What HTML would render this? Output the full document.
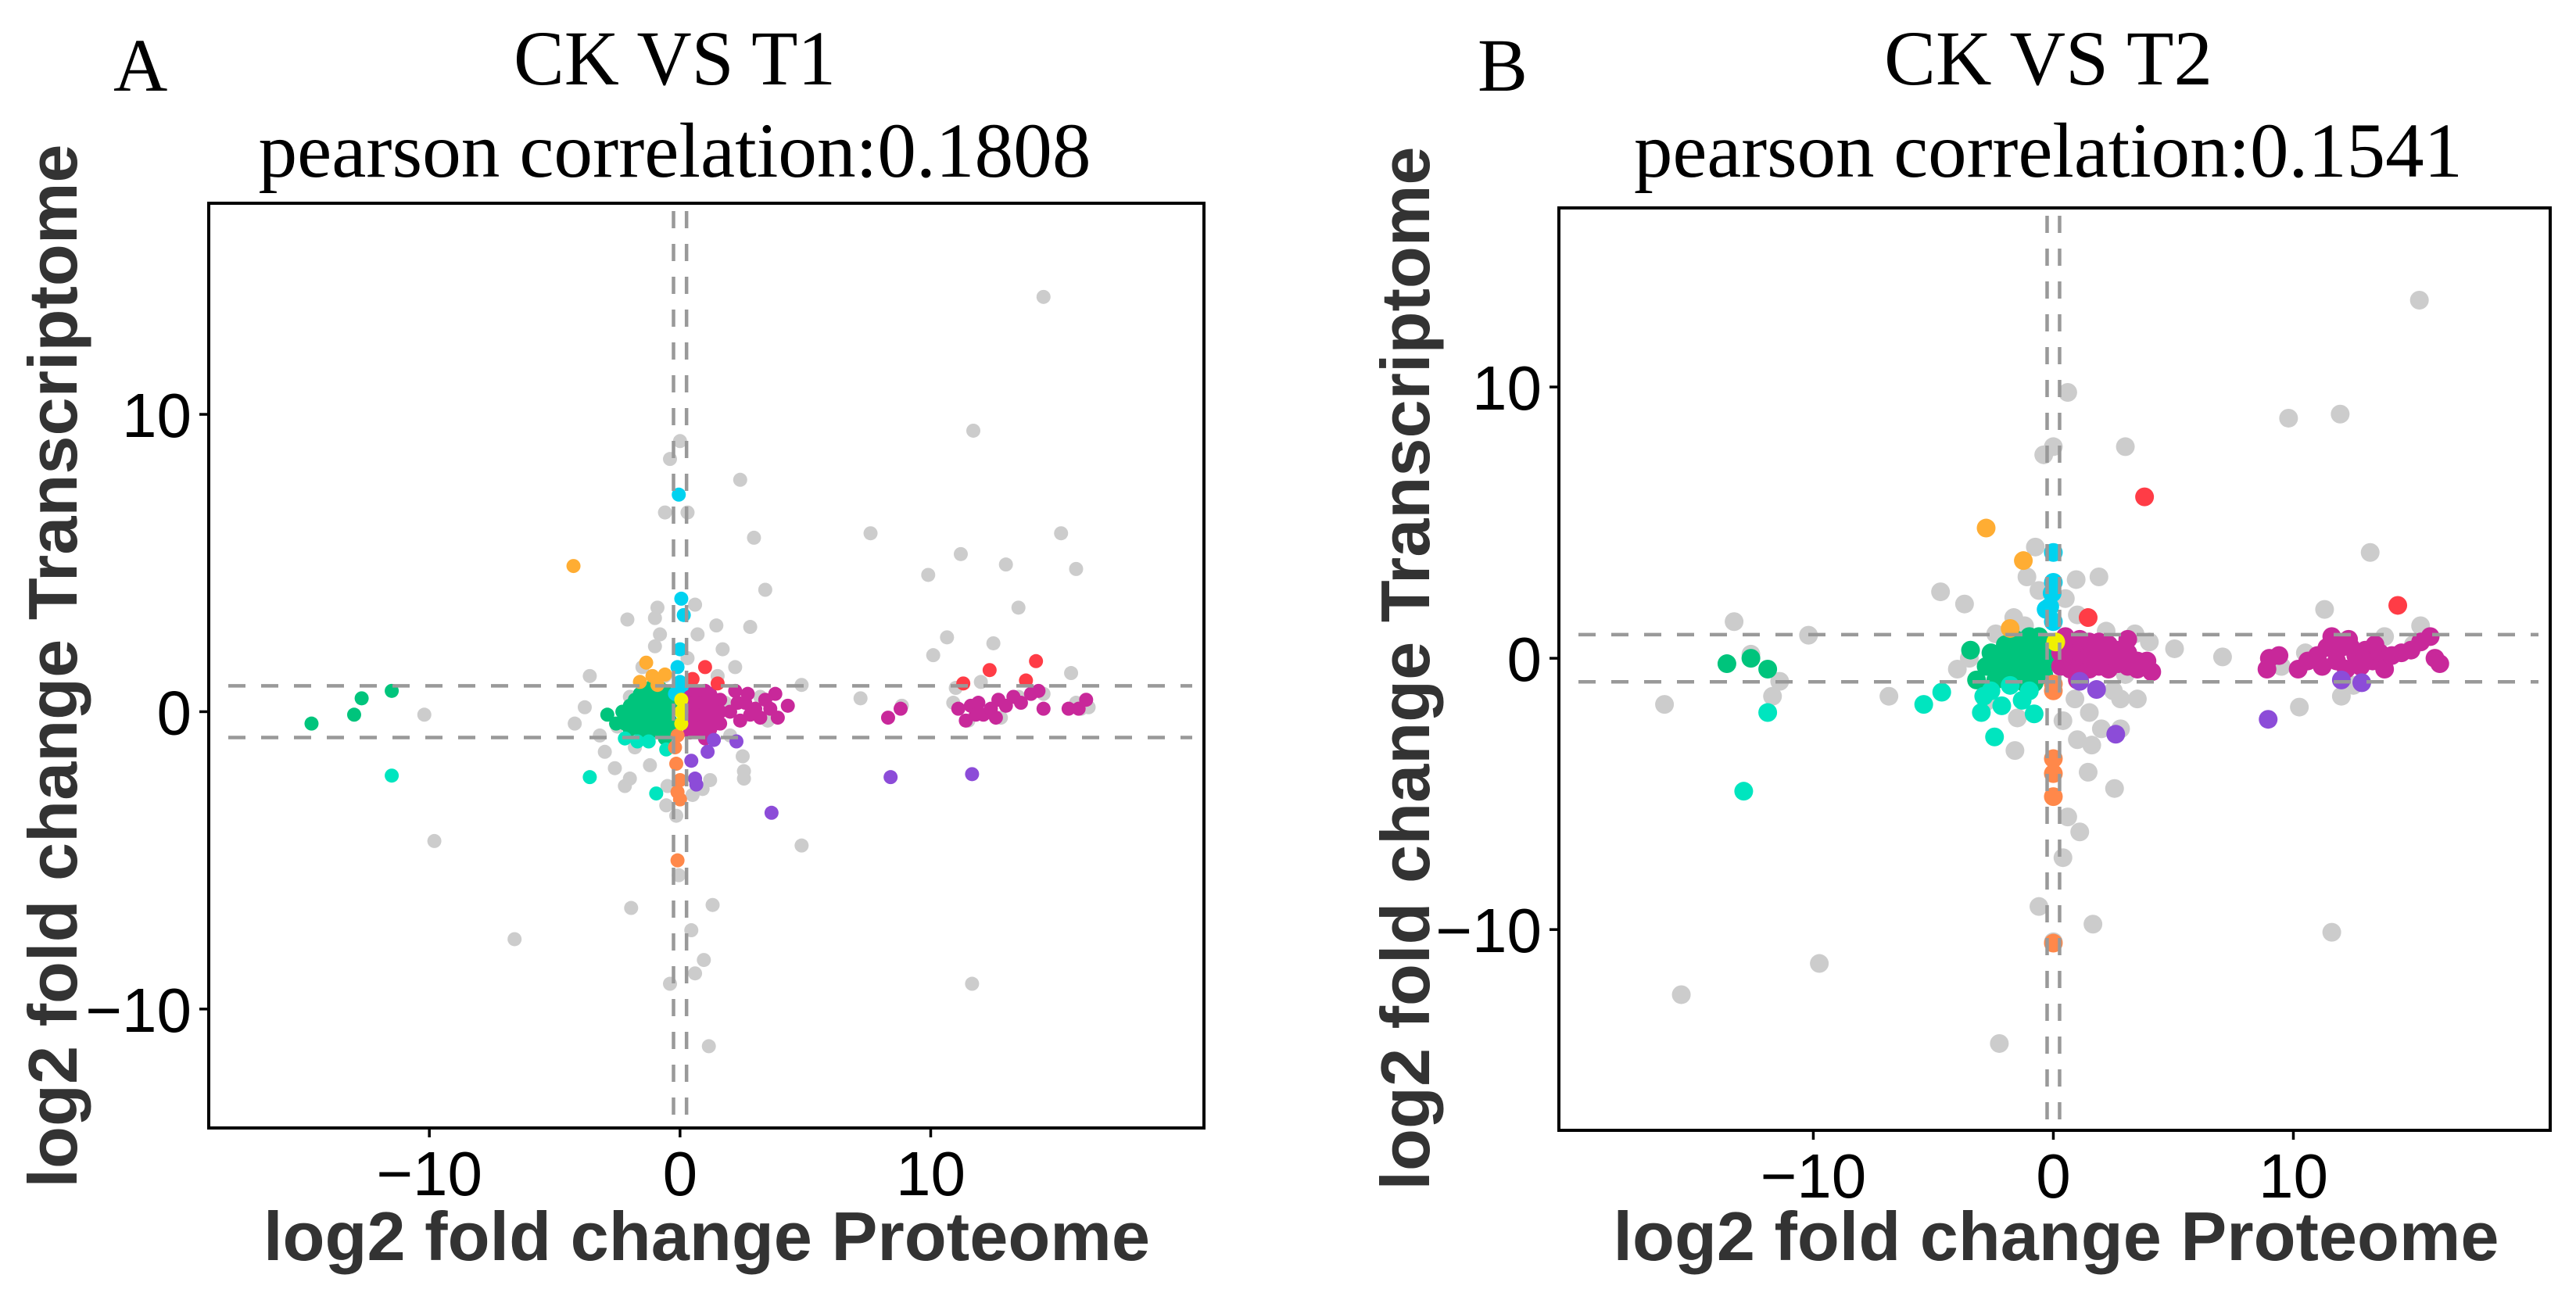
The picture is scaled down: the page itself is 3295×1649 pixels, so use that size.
<!DOCTYPE html>
<html><head><meta charset="utf-8"><style>
body{margin:0;background:#fff;}
svg{display:block;}
</style></head><body>
<svg id="fig" width="3295" height="1649" viewBox="0 0 3295 1649" xmlns="http://www.w3.org/2000/svg">
<rect width="3295" height="1649" fill="#fff"/>
<g id="pA"></g>
<g id="pB"></g>
</svg>
<script>
const ticks = [-10, 0, 10];
const tickLabels = ["\u221210", "0", "10"];
const threshX = 0.26;
const threshY = 0.87;

// Panel A data
const greyA = [[14.5,13.95],[11.7,9.45],[0,9.1],[-0.4,8.5],[2.4,7.8],[-0.6,6.7],[0.3,6.7],[2.95,5.85],[7.6,6.0],[15.2,6.0],[11.2,5.3],[13.0,4.95],[9.9,4.6],[15.8,4.8],[3.4,4.1],[13.5,3.5],[-2.1,3.1],[-0.9,3.5],[0.6,3.6],[-1.0,3.15],[0.7,2.6],[1.45,2.9],[2.8,2.85],[-0.8,2.6],[1.7,2.1],[10.65,2.5],[12.5,2.3],[10.1,1.9],[-3.6,1.2],[15.6,1.3],[4.85,0.9],[7.2,0.45],[8.85,0.2],[-10.2,-0.1],[-3.8,0.15],[-4.2,-0.4],[16.3,0.15],[2.55,-2.0],[2.55,-2.25],[-2.0,-2.25],[-2.6,-1.9],[-3.0,-1.35],[-9.8,-4.35],[4.85,-4.5],[-0.55,-3.15],[-0.15,-3.5],[-1.95,-6.6],[1.3,-6.5],[-0.05,-5.5],[-6.6,-7.65],[0.45,-7.35],[0.95,-8.35],[0.6,-8.8],[-0.4,-9.15],[11.65,-9.15],[1.15,-11.25],[-1.5,1.5],[-2,0.5],[-2.5,-0.5],[-1.8,-1.2],[-1.2,-1.8],[1.5,1.2],[2,-0.8],[2.5,-1.5],[1.2,-2.3],[-0.5,-2.5],[0.5,-2.8],[3.2,0.5],[3.5,-0.3],[-3.2,-0.8],[-2.2,-2.5],[1.8,0.3],[0.3,1.8],[-0.6,1.2],[0.9,-2.6],[2.2,1.5],[-1.0,2.2],[11,0.8],[12,1],[13.5,0.5],[14.5,0.6],[11.5,-0.3],[15.8,0.3],[16,0.1],[10.9,0.3],[12.8,-0.2]];
const greenA = [[-14.7,-0.4],[-12.7,0.45],[-11.5,0.7],[-13.0,-0.1],[-2.9,-0.1],[-2.55,-0.4],[-2,-0.6],[-2,-0.2],[-2,0.2],[-1.6,-0.6],[-1.6,-0.2],[-1.6,0.2],[-1.6,0.6],[-1.2,-0.7],[-1.2,-0.3],[-1.2,0.1],[-1.2,0.5],[-1.2,0.8],[-0.8,-0.7],[-0.8,-0.3],[-0.8,0.1],[-0.8,0.5],[-0.8,0.8],[-0.4,-0.7],[-0.4,-0.3],[-0.4,0.1],[-0.4,0.5],[-2.3,0.0],[-1.4,-0.8],[-0.6,-0.9],[-1.8,-0.4],[-1.8,0.0],[-1.8,0.4],[-1.4,-0.5],[-1.4,-0.1],[-1.4,0.3],[-1.4,0.7],[-1.0,-0.5],[-1.0,-0.1],[-1.0,0.3],[-1.0,0.7],[-0.6,-0.5],[-0.6,-0.1],[-0.6,0.3],[-0.6,0.7],[-0.3,-0.5],[-0.3,0.3],[-2.2,-0.4]];
const aquaA = [[-11.5,-2.15],[-3.6,-2.2],[-0.95,-2.75],[-1.7,-1.0],[-1.25,-1.0],[-0.55,-1.27],[-2.2,-0.9]];
const cyanA = [[-0.05,7.3],[0.05,3.8],[0.15,3.25],[0,2.1],[-0.1,1.5],[0,1.0],[-0.2,0.6],[0.1,0.7]];
const amberA = [[-4.25,4.9],[-1.35,1.65],[-1.6,1.0],[-1.1,1.2],[-0.6,1.25],[-0.9,0.9]];
const redA = [[1.0,1.5],[0.5,1.1],[1.5,0.95],[12.35,1.4],[14.2,1.7],[13.8,1.05],[11.3,0.95]];
const magentaA = [[0.4,-0.7],[0.4,-0.3],[0.4,0.1],[0.4,0.5],[0.8,-0.7],[0.8,-0.3],[0.8,0.1],[0.8,0.5],[1.2,-0.6],[1.2,-0.2],[1.2,0.2],[1.2,0.6],[1.6,-0.4],[1.6,0.0],[1.6,0.4],[0.6,0.7],[1.0,-0.9],[0.6,-0.5],[0.6,-0.1],[0.6,0.3],[1.0,-0.5],[1.0,-0.1],[1.0,0.3],[1.0,0.7],[1.4,-0.4],[1.4,0.0],[1.4,0.4],[2.2,0.7],[2.6,0.3],[3.0,0.1],[3.4,0.4],[3.8,0.6],[3.9,-0.2],[4.3,0.2],[2.4,-0.3],[2.8,-0.1],[3.6,0.1],[2.0,0.0],[2.3,0.3],[2.7,0.6],[3.2,-0.2],[8.3,-0.2],[8.8,0.1],[11.1,0.1],[11.4,-0.3],[11.6,0.2],[11.9,0.3],[12.1,-0.1],[12.4,0.1],[12.7,0.4],[13.0,0.2],[13.3,0.5],[13.6,0.3],[14.0,0.6],[14.3,0.7],[14.5,0.1],[15.5,0.1],[15.9,0.1],[16.2,0.4],[12.6,-0.2],[11.8,-0.1]];
const purpleA = [[1.35,-0.95],[1.1,-1.35],[0.45,-1.65],[0.6,-2.25],[0.65,-2.45],[2.25,-1.0],[3.65,-3.4],[8.4,-2.2],[11.65,-2.1]];
const orangeA = [[-0.1,-0.8],[-0.2,-1.2],[-0.15,-1.75],[0,-2.3],[-0.1,-2.7],[0,-2.95],[-0.1,-5.0]];
const yellowA = [[0.05,0],[0.05,-0.4],[0.05,0.4]];

// Panel B data
const greyB = [[15.25,13.2],[0.6,9.8],[9.8,8.85],[11.95,9.0],[-0.4,7.5],[0,7.8],[3.0,7.8],[-0.75,4.1],[13.2,3.9],[-1.1,3.0],[0.95,2.9],[1.9,3.0],[-4.7,2.45],[-3.7,2.0],[-1.65,1.5],[11.3,1.8],[15.3,1.2],[-13.3,1.35],[-10.2,0.85],[-12.6,0.15],[5.05,0.35],[7.05,0.05],[3.4,0.9],[-11.4,-0.85],[-11.7,-1.4],[-16.2,-1.7],[-6.85,-1.4],[-1.6,-3.4],[2.8,-1.5],[10.25,-1.8],[12.0,-1.4],[1.45,-4.2],[2.55,-4.8],[0.6,-5.85],[1.1,-6.4],[0.4,-7.35],[-0.6,-9.15],[1.65,-9.8],[0,-10.45],[11.6,-10.1],[-9.75,-11.25],[-15.5,-12.4],[-2.25,-14.2],[-1.2,1.2],[0.5,2.2],[1.0,1.6],[-0.6,2.5],[2.2,1.0],[0.9,-1.5],[1.5,-2.0],[2.0,-2.6],[1.0,-3.0],[0.4,-2.3],[1.6,-3.2],[2.5,-1.2],[3.5,-1.5],[-1.5,-2.2],[-2.8,-1.6],[-3.5,0.0],[-4.0,-0.4],[-2.4,0.9],[4.0,0.6],[3.0,-0.6],[2.8,-2.6],[12.5,-1.0],[13.8,0.8],[15.0,0.5],[10.5,0.2],[9.5,-0.3]];
const greenB = [[-13.6,-0.2],[-12.6,0],[-11.9,-0.4],[-3.45,0.3],[-3.2,-0.8],[-2.8,-0.3],[-2.6,0.2],[-2.2,-0.5],[-2.2,0.1],[-2.0,0.5],[-1.8,-0.4],[-1.8,0.2],[-1.6,0.7],[-1.4,-0.5],[-1.4,0.0],[-1.4,0.5],[-1.0,-0.6],[-1.0,-0.1],[-1.0,0.4],[-1.0,0.8],[-0.6,-0.5],[-0.6,0.0],[-0.6,0.5],[-0.6,0.8],[-0.3,-0.2],[-0.3,0.3],[-1.2,-0.9],[-2.4,-0.8],[-2.4,-0.2],[-2.0,-0.1],[-1.6,-0.2],[-1.2,0.2],[-0.8,0.2],[-0.4,-0.6],[-1.8,-0.8],[-0.8,-0.9]];
const aquaB = [[-12.9,-4.9],[-11.9,-2.0],[-5.4,-1.7],[-4.65,-1.25],[-3.0,-2.0],[-2.45,-2.9],[-2.15,-1.75],[-1.3,-1.55],[-0.8,-2.05],[-2.6,-1.2],[-1.8,-1.0],[-1.0,-1.2],[-2.9,-1.4]];
const cyanB = [[0,3.9],[0,2.8],[-0.05,2.4],[-0.3,1.8],[0,1.35],[-0.15,1.9]];
const amberB = [[-2.8,4.8],[-1.25,3.6],[-1.8,1.1]];
const redB = [[3.8,5.95],[1.45,1.5],[14.35,1.95]];
const magentaB = [[0.3,-0.3],[0.3,0.2],[0.3,0.6],[0.7,-0.4],[0.7,0.1],[0.7,0.6],[1.1,-0.3],[1.1,0.2],[1.1,0.7],[1.5,-0.4],[1.5,0.1],[1.5,0.6],[1.9,-0.3],[1.9,0.2],[1.9,0.6],[2.3,-0.4],[2.3,0.1],[2.3,0.5],[2.7,-0.2],[2.7,0.3],[3.1,-0.3],[3.1,0.2],[3.1,0.7],[3.5,-0.1],[3.5,-0.4],[3.9,-0.1],[4.1,-0.5],[1.0,-0.8],[0.5,0.8],[8.9,-0.4],[9.0,0.0],[9.4,0.1],[10.2,-0.4],[10.6,-0.1],[11.0,0.1],[11.4,0.4],[11.6,0.8],[11.8,-0.1],[12.0,0.4],[12.2,-0.4],[12.3,0.7],[12.6,0.1],[12.8,-0.3],[13.0,0.3],[13.3,-0.1],[13.6,0.2],[13.8,-0.4],[14.1,0.1],[14.5,0.2],[14.9,0.3],[15.3,0.6],[15.7,0.8],[15.9,0.0],[16.1,-0.2],[12.4,0.4],[13.4,0.5],[11.2,-0.3]];
const purpleB = [[1.1,-0.85],[1.8,-1.15],[2.6,-2.8],[8.95,-2.25],[12.0,-0.8],[12.85,-0.9]];
const orangeB = [[0,-1.2],[0,-0.95],[0,-3.7],[0,-4.25],[0,-5.1],[0,-10.5]];
const yellowB = [[0.1,0.6]];

const NS = "http://www.w3.org/2000/svg";
function mk(tag, attrs, parent){const e=document.createElementNS(NS,tag);for(const k in attrs)e.setAttribute(k,attrs[k]);parent.appendChild(e);return e;}

function panel(g, cfg, series){
  const sx = v => cfg.x0 + (v - cfg.xmin)/(cfg.xmax - cfg.xmin)*(cfg.x1 - cfg.x0);
  const sy = v => cfg.y1 - (v - cfg.ymin)/(cfg.ymax - cfg.ymin)*(cfg.y1 - cfg.y0);
  const pg = mk('g',{},g);
  
  
  series.forEach(s=>{
    s.pts.forEach(p=>{
      const c = mk('circle',{cx:sx(p[0]),cy:sy(p[1]),r:cfg.r,fill:s.color},pg);
      
      
    });
  });
  const dash = {stroke:'#999',"stroke-width":4.5,"stroke-dasharray":"22 20",fill:'none'};
  [threshY,-threshY].forEach(t=>{
    const l = mk('line',Object.assign({x1:cfg.x0+25,x2:cfg.x1-15,y1:sy(t),y2:sy(t)},dash),g);
    
    
  });
  [threshX,-threshX].forEach(t=>{
    const l = mk('line',Object.assign({y1:cfg.y0+10,y2:cfg.y1-5,x1:sx(t),x2:sx(t)},dash),g);
    
    
  });
  const b = mk('rect',{x:cfg.x0,y:cfg.y0,width:cfg.x1-cfg.x0,height:cfg.y1-cfg.y0,fill:'none',stroke:'#000',"stroke-width":4},g);
  
  
  ticks.forEach((t,i)=>{
    const tx = mk('line',{x1:sx(t),x2:sx(t),y1:cfg.y1,y2:cfg.y1+12,stroke:'#000',"stroke-width":3.5},g);
    
    
    const lx = mk('text',{x:sx(t),y:cfg.y1+86,"text-anchor":"middle","font-family":"Liberation Sans, sans-serif","font-size":80,fill:'#000'},g);
    lx.textContent = tickLabels[i];
    
    
    const ty = mk('line',{x1:cfg.x0-12,x2:cfg.x0,y1:sy(t),y2:sy(t),stroke:'#000',"stroke-width":3.5},g);
    
    
    const ly = mk('text',{x:cfg.x0-22,y:sy(t)+29,"text-anchor":"end","font-family":"Liberation Sans, sans-serif","font-size":80,fill:'#000'},g);
    ly.textContent = tickLabels[i];
    
    
  });
  const xt = mk('text',{x:cfg.xtx,y:1612,"text-anchor":"middle","font-family":"Liberation Sans, sans-serif","font-weight":"bold","font-size":88,fill:'#333',textLength:cfg.xtw,lengthAdjust:"spacingAndGlyphs"},g);
  xt.textContent = 'log2 fold change Proteome';
  
  
  const yt = mk('text',{x:0,y:0,"text-anchor":"middle","font-family":"Liberation Sans, sans-serif","font-weight":"bold","font-size":88,fill:'#333',textLength:1335,lengthAdjust:"spacingAndGlyphs",transform:`translate(${cfg.ytx},${cfg.yty}) rotate(-90)`},g);
  yt.textContent = 'log2 fold change Transcriptome';
  
  
  const t1 = mk('text',{x:cfg.tx,y:108,"text-anchor":"middle","font-family":"Liberation Serif, serif","font-size":100,fill:'#000',textLength:cfg.t1w,lengthAdjust:"spacingAndGlyphs"},g);
  t1.textContent = cfg.title;
  
  
  const t2 = mk('text',{x:cfg.tx,y:226,"text-anchor":"middle","font-family":"Liberation Serif, serif","font-size":100,fill:'#000',textLength:cfg.t2w,lengthAdjust:"spacingAndGlyphs"},g);
  t2.textContent = cfg.sub;
  
  
  const lab = mk('text',{x:cfg.lx,y:116,"font-family":"Liberation Serif, serif","font-size":96,fill:'#000'},g);
  lab.textContent = cfg.letter;
  
  
}

const col = {grey:'#cccccc',green:'#00c47c',aqua:'#00e5bf',cyan:'#00d2f0',amber:'#ffad33',red:'#ff3c46',magenta:'#c8289a',purple:'#8c4cd8',orange:'#ff884a',yellow:'#f0f000'};

panel(document.getElementById('pA'),
  {x0:267,x1:1540,y0:260,y1:1443,xmin:-18.8,xmax:20.9,ymin:-14.0,ymax:17.1,r:9,
   xtx:904,xtw:1134,ytx:98,yty:852,tx:863,t1w:412,t2w:1065,title:'CK VS T1',sub:'pearson correlation:0.1808',lx:145,letter:'A'},
  [{name:'grey',color:col.grey,pts:greyA},{name:'green',color:col.green,pts:greenA},{name:'aqua',color:col.aqua,pts:aquaA},
   {name:'cyan',color:col.cyan,pts:cyanA},{name:'amber',color:col.amber,pts:amberA},{name:'magenta',color:col.magenta,pts:magentaA},
   {name:'red',color:col.red,pts:redA},{name:'purple',color:col.purple,pts:purpleA},{name:'orange',color:col.orange,pts:orangeA},{name:'yellow',color:col.yellow,pts:yellowA}]);

panel(document.getElementById('pB'),
  {x0:1994,x1:3262,y0:266,y1:1446,xmin:-20.6,xmax:20.7,ymin:-17.4,ymax:16.6,r:12,
   xtx:2630,xtw:1133,ytx:1828,yty:855,tx:2620,t1w:420,t2w:1060,title:'CK VS T2',sub:'pearson correlation:0.1541',lx:1890,letter:'B'},
  [{name:'grey',color:col.grey,pts:greyB},{name:'green',color:col.green,pts:greenB},{name:'aqua',color:col.aqua,pts:aquaB},
   {name:'cyan',color:col.cyan,pts:cyanB},{name:'amber',color:col.amber,pts:amberB},{name:'magenta',color:col.magenta,pts:magentaB},
   {name:'red',color:col.red,pts:redB},{name:'purple',color:col.purple,pts:purpleB},{name:'orange',color:col.orange,pts:orangeB},{name:'yellow',color:col.yellow,pts:yellowB}]);
</script>
</body></html>
